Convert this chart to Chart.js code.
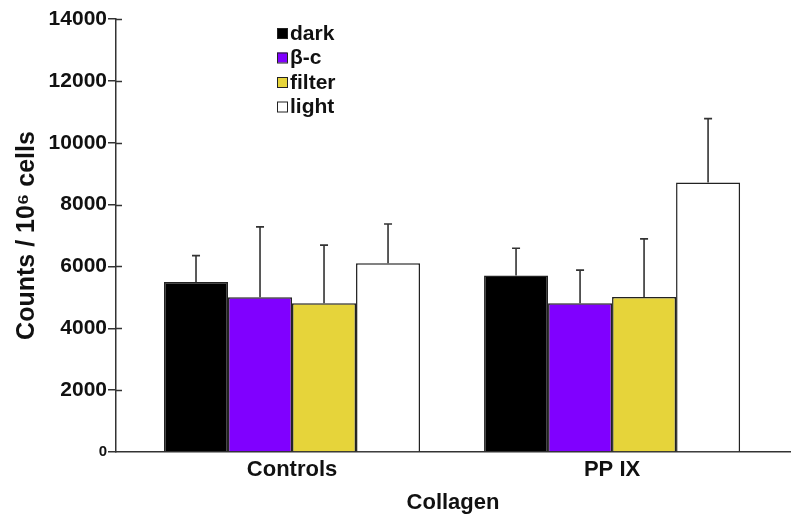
<!DOCTYPE html>
<html>
<head>
<meta charset="utf-8">
<script src="https://cdn.jsdelivr.net/npm/chart.js@4"></script>
<style>
  html, body { margin: 0; padding: 0; background: #fff; }
  #wrap { width: 800px; height: 521px; }
</style>
</head>
<body>
<div id="wrap"><canvas id="myChart"></canvas></div>
<script>
// Datos
const categorias = ['Controls', 'PP IX'];
const etiquetas = ['dark', 'β-c', 'filter', 'light'];
const colores = ['#000000', '#8000ff', '#e6d43a', '#ffffff'];

const valDark = [5500, 5710];
const valBetaC = [5000, 4810];
const valFilter = [4810, 5010];
const valLight = [6100, 8710];

// extremo superior de las barras de error
const errDark = [6350, 6590];
const errBetaC = [7280, 5880];
const errFilter = [6690, 6890];
const errLight = [7370, 10780];

const yTicks = [0, 2000, 4000, 6000, 8000, 10000, 12000, 14000];

const valores = [valDark, valBetaC, valFilter, valLight];
const errores = [errDark, errBetaC, errFilter, errLight];

const fuente = '"Liberation Sans", Arial, sans-serif';
const colorTexto = '#111';

// barras de error (solo hacia arriba)
const barrasError = {
    id: 'barrasError',
    afterDatasetsDraw(chart) {
        const ctx = chart.ctx;
        const y = chart.scales.y;
        ctx.save();
        ctx.strokeStyle = '#333';
        ctx.lineWidth = 1.6;
        chart.data.datasets.forEach((ds, i) => {
            const meta = chart.getDatasetMeta(i);
            meta.data.forEach((bar, j) => {
                const yTop = y.getPixelForValue(ds.errorTop[j]);
                ctx.beginPath();
                ctx.moveTo(bar.x, bar.y);
                ctx.lineTo(bar.x, yTop);
                ctx.moveTo(bar.x - 4, yTop);
                ctx.lineTo(bar.x + 4, yTop);
                ctx.stroke();
            });
        });
        ctx.restore();
    }
};

// las marcas del eje y cruzan el eje: parte interior
const marcasInternas = {
    id: 'marcasInternas',
    afterDraw(chart) {
        const ctx = chart.ctx;
        const y = chart.scales.y;
        const x0 = chart.chartArea.left;
        ctx.save();
        ctx.strokeStyle = '#333';
        ctx.lineWidth = 1.5;
        y.ticks.forEach((t) => {
            if (t.value === 0) return;
            const py = Math.round(y.getPixelForValue(t.value)) + 0.5;
            ctx.beginPath();
            ctx.moveTo(x0, py);
            ctx.lineTo(x0 + 6, py);
            ctx.stroke();
        });
        ctx.restore();
    }
};

// leyenda dibujada dentro del area
const leyenda = {
    id: 'leyenda',
    afterDraw(chart) {
        const ctx = chart.ctx;
        ctx.save();
        ctx.font = 'bold 21px ' + fuente;
        ctx.textBaseline = 'middle';
        chart.data.datasets.forEach((ds, i) => {
            const yc = 33 + i * 24.5;
            ctx.fillStyle = ds.backgroundColor;
            ctx.fillRect(277, yc - 5, 10, 10);
            ctx.strokeStyle = '#222';
            ctx.lineWidth = 1;
            ctx.strokeRect(277.5, yc - 4.5, 10, 10);
            ctx.fillStyle = colorTexto;
            ctx.fillText(ds.label, 290, yc + 1);
        });
        ctx.restore();
    }
};

const cnv = document.getElementById('myChart');

const datos = {
    datasets: etiquetas.map((et, i) => ({
        label: et,
        data: valores[i].map((v, k) => ({ x: k, y: v })),
        errorTop: errores[i],
        backgroundColor: colores[i],
        borderColor: '#222',
        borderWidth: 1.5,
        categoryPercentage: 0.8,
        barPercentage: 1.0
    }))
};

new Chart(cnv, {
    type: 'bar',
    data: datos,
    plugins: [barrasError, marcasInternas, leyenda],
    options: {
        responsive: true,
        maintainAspectRatio: false,
        animation: false,
        layout: { padding: { top: 19, right: 10, left: 0, bottom: 0 } },
        plugins: {
            legend: { display: false },
            tooltip: { enabled: false }
        },
        scales: {
            x: {
                type: 'linear',
                offset: false,
                min: -0.55,
                max: 1.556,
                afterBuildTicks: (s) => { s.ticks = categorias.map((c, k) => ({ value: k })); },
                afterFit: (s) => { s.height = 69; },
                grid: { display: true, drawOnChartArea: false, drawTicks: false },
                border: { display: true, color: '#333', width: 1.5 },
                ticks: {
                    padding: 5,
                    color: colorTexto,
                    font: { family: fuente, size: 22, weight: 'bold' },
                    callback: (v) => categorias[v]
                },
                title: {
                    display: true,
                    text: 'Collagen',
                    color: colorTexto,
                    padding: { top: 0, bottom: 5 },
                    font: { family: fuente, size: 22, weight: 'bold' }
                }
            },
            y: {
                min: 0,
                max: 14000,
                afterBuildTicks: (s) => { s.ticks = yTicks.map(v => ({ value: v })); },
                afterFit: (s) => { s.width = 116; },
                grid: { drawOnChartArea: false, drawTicks: true, tickLength: 8, color: '#333', lineWidth: 1.5 },
                border: { display: true, color: '#333', width: 1.5 },
                ticks: {
                    padding: 1,
                    color: colorTexto,
                    callback: (v) => String(v),
                    font: (c) => ({ family: fuente, size: c.tick && c.tick.value === 0 ? 15 : 21, weight: 'bold' })
                },
                title: {
                    display: true,
                    text: 'Counts / 10⁶ cells',
                    color: colorTexto,
                    padding: { top: 12, bottom: 0 },
                    font: { family: fuente, size: 25, weight: 'bold' }
                }
            }
        }
    }
});
</script>
</body>
</html>
